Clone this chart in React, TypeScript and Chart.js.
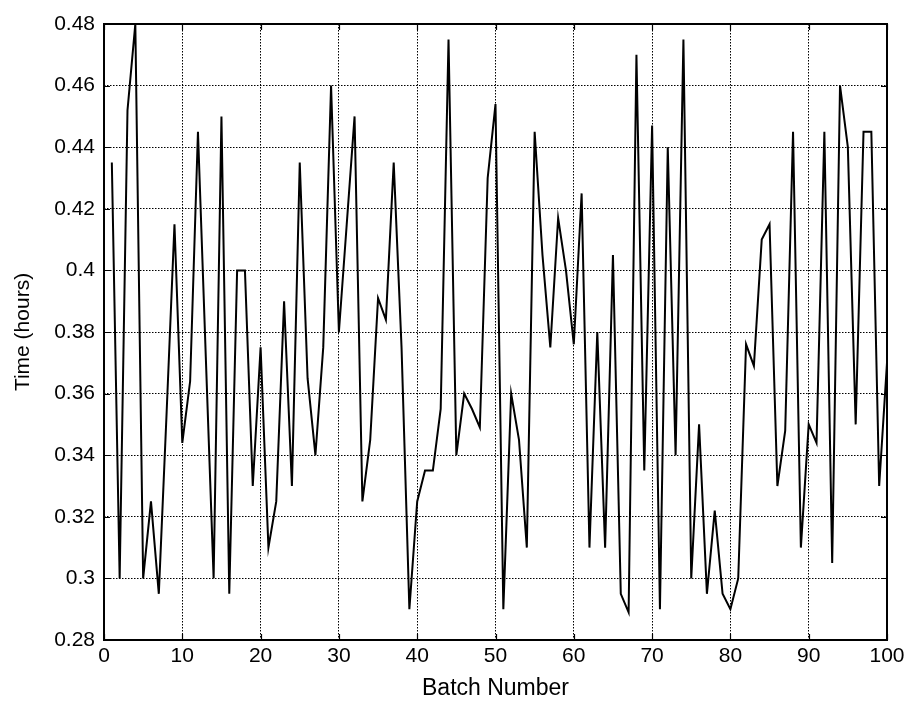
import React, { useEffect, useRef } from "react";
import { Chart, registerables } from "chart.js";

Chart.register(...registerables);

const batchNumbers = [
  1, 2, 3, 4, 5, 6, 7, 8, 9, 10,
  11, 12, 13, 14, 15, 16, 17, 18, 19, 20,
  21, 22, 23, 24, 25, 26, 27, 28, 29, 30,
  31, 32, 33, 34, 35, 36, 37, 38, 39, 40,
  41, 42, 43, 44, 45, 46, 47, 48, 49, 50,
  51, 52, 53, 54, 55, 56, 57, 58, 59, 60,
  61, 62, 63, 64, 65, 66, 67, 68, 69, 70,
  71, 72, 73, 74, 75, 76, 77, 78, 79, 80,
  81, 82, 83, 84, 85, 86, 87, 88, 89, 90,
  91, 92, 93, 94, 95, 96, 97, 98, 99, 100,
];

const timeHours = [
  0.435, 0.300, 0.452, 0.480, 0.300, 0.325, 0.295, 0.354, 0.415, 0.344,
  0.364, 0.445, 0.372, 0.300, 0.450, 0.295, 0.400, 0.400, 0.330, 0.375,
  0.310, 0.325, 0.390, 0.330, 0.435, 0.365, 0.340, 0.375, 0.460, 0.380,
  0.415, 0.450, 0.325, 0.345, 0.391, 0.384, 0.435, 0.375, 0.290, 0.325,
  0.335, 0.335, 0.355, 0.475, 0.340, 0.360, 0.355, 0.349, 0.430, 0.454,
  0.290, 0.360, 0.345, 0.310, 0.445, 0.405, 0.375, 0.417, 0.400, 0.376,
  0.425, 0.310, 0.380, 0.310, 0.405, 0.295, 0.289, 0.470, 0.335, 0.447,
  0.290, 0.440, 0.340, 0.475, 0.300, 0.350, 0.295, 0.322, 0.295, 0.290,
  0.300, 0.376, 0.369, 0.410, 0.415, 0.330, 0.348, 0.445, 0.310, 0.350,
  0.344, 0.445, 0.305, 0.460, 0.440, 0.350, 0.445, 0.445, 0.330, 0.370,
];

const xMin = 0;
const xMax = 100;
const xStep = 10;
const yMin = 0.28;
const yMax = 0.48;
const yStep = 0.02;

const xTitle = "Batch Number";
const yTitle = "Time (hours)";

const FONT = "'Liberation Sans', Arial, Helvetica, sans-serif";

const framePlugin = {
  id: "matlabFrame",
  afterDraw(chart: any) {
    const { ctx, chartArea, scales } = chart;
    const { left, right, top, bottom } = chartArea;
    ctx.save();
    ctx.strokeStyle = "#000";
    ctx.lineWidth = 1.2;
    ctx.setLineDash([]);
    const tl = 6;
    ctx.beginPath();
    scales.x.ticks.forEach((t: any) => {
      const px = Math.round(scales.x.getPixelForValue(t.value)) + 0.5;
      ctx.moveTo(px, bottom);
      ctx.lineTo(px, bottom - tl);
      ctx.moveTo(px, top);
      ctx.lineTo(px, top + tl);
    });
    scales.y.ticks.forEach((t: any) => {
      const py = Math.round(scales.y.getPixelForValue(t.value)) + 0.5;
      ctx.moveTo(left, py);
      ctx.lineTo(left + tl, py);
      ctx.moveTo(right, py);
      ctx.lineTo(right - tl, py);
    });
    ctx.stroke();
    ctx.lineWidth = 2;
    ctx.strokeRect(left, top, right - left, bottom - top);
    ctx.restore();
  },
};

export default function App() {
  const canvasRef = useRef<HTMLCanvasElement | null>(null);

  useEffect(() => {
    const canvas = canvasRef.current;
    if (!canvas) return;
    const points = batchNumbers.map((b, i) => ({ x: b, y: timeHours[i] }));
    const chart = new Chart(canvas, {
      type: "line",
      data: {
        datasets: [
          {
            data: points,
            borderColor: "#000",
            borderWidth: 2,
            pointRadius: 0,
            tension: 0,
            fill: false,
          },
        ],
      },
      options: {
        animation: false,
        responsive: false,
        maintainAspectRatio: false,
        layout: { padding: { top: 24, right: 26, left: 0, bottom: 0 } },
        plugins: {
          legend: { display: false },
          tooltip: { enabled: false },
          title: { display: false },
        },
        scales: {
          x: {
            type: "linear",
            min: xMin,
            max: xMax,
            afterFit: (s: any) => {
              s.height = 64;
            },
            ticks: {
              stepSize: xStep,
              color: "#000",
              font: { family: FONT, size: 21 },
              padding: 4,
              maxRotation: 0,
              autoSkip: false,
            },
            grid: {
              color: "#000",
              lineWidth: 1,
              drawTicks: false,
            },
            border: { display: false, dash: [1.5, 1.5] },
            title: {
              display: true,
              text: xTitle,
              color: "#000",
              font: { family: FONT, size: 23 },
              padding: { top: 0, bottom: 2 },
            },
          },
          y: {
            type: "linear",
            min: yMin,
            max: yMax,
            afterFit: (s: any) => {
              s.width = 104;
            },
            ticks: {
              stepSize: yStep,
              color: "#000",
              font: { family: FONT, size: 21 },
              padding: 9,
              autoSkip: false,
              callback: (v: any) => String(Number(Number(v).toFixed(2))),
            },
            grid: {
              color: "#000",
              lineWidth: 1,
              drawTicks: false,
            },
            border: { display: false, dash: [1.5, 1.5] },
            title: {
              display: true,
              text: yTitle,
              color: "#000",
              font: { family: FONT, size: 21 },
              padding: { top: 11, bottom: 0 },
            },
          },
        },
      },
      plugins: [framePlugin],
    });
    return () => chart.destroy();
  }, []);

  return (
    <div style={{ position: "absolute", left: 0, top: 0, width: 913, height: 704, background: "#fff" }}>
      <canvas ref={canvasRef} width={913} height={704} style={{ display: "block" }} />
    </div>
  );
}
